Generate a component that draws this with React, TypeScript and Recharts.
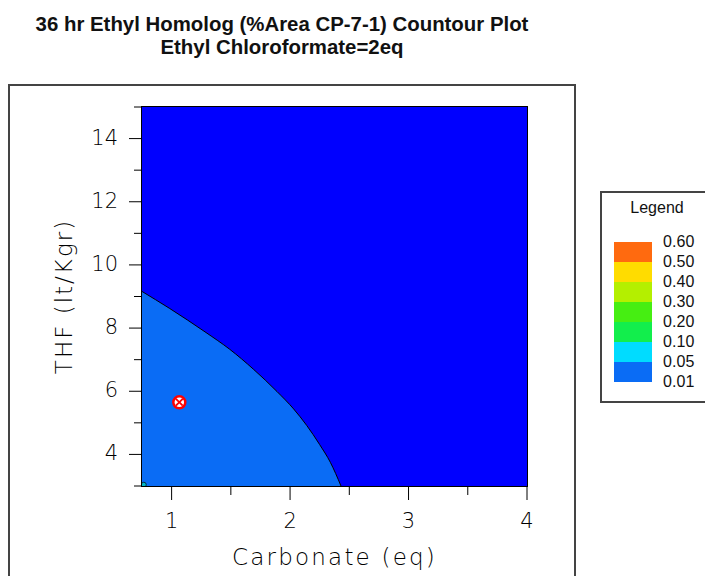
import React from "react";
import { ComposedChart, XAxis, YAxis, Area, Scatter, CartesianGrid } from "recharts";

// contour boundary between the 0.01-0.05 band and the < 0.01 band
const boundaryX = [0.75, 0.98, 1.29, 1.49, 1.69, 1.89, 2.03, 2.14, 2.25, 2.34, 2.43];
const boundaryY = [9.16, 8.63, 7.86, 7.33, 6.70, 5.99, 5.44, 4.92, 4.31, 3.75, 3.0];

// experiment point
const pointX = [1.065];
const pointY = [5.65];

// tiny 0.05 pocket in the corner
const pocketX = [0.765];
const pocketY = [3.04];

const xTicks = [1, 1.5, 2, 2.5, 3, 3.5, 4];
const xMajor = [1, 2, 3, 4];
const yTicks = [3, 4, 5, 6, 7, 8, 9, 10, 11, 12, 13, 14, 15];
const yMajor = [4, 6, 8, 10, 12, 14];

const legendLevels = ["0.60", "0.50", "0.40", "0.30", "0.20", "0.10", "0.05", "0.01"];
const legendColors = ["#ff6a0f", "#ffdc00", "#b4ef00", "#46ee12", "#12ee4c", "#00dcff", "#0a6cf5"];

const boundary = boundaryX.map((x, i) => ({ x, y: boundaryY[i] }));
const points = pointX.map((x, i) => ({ x, y: pointY[i] }));
const pocket = pocketX.map((x, i) => ({ x, y: pocketY[i] }));

const axisFont = "'DejaVu Sans', sans-serif";

const XTick = (props: any) => {
  const { x, y, payload } = props;
  const major = xMajor.includes(payload.value);
  return (
    <g>
      <line x1={x} x2={x} y1={y} y2={y + (major ? 14 : 9)} stroke="#000" strokeWidth={1} />
      {major && (
        <text x={x} y={y + 42} textAnchor="middle" fontFamily={axisFont} fontWeight={200} fontSize={21} fill="#000">
          {payload.value}
        </text>
      )}
    </g>
  );
};

const YTick = (props: any) => {
  const { x, y, payload } = props;
  const major = yMajor.includes(payload.value);
  return (
    <g>
      <line x1={x - (major ? 13 : 8)} x2={x} y1={y} y2={y} stroke="#000" strokeWidth={1} />
      {major && (
        <text x={x - 24} y={y + 6} textAnchor="end" fontFamily={axisFont} fontWeight={200} fontSize={21} fill="#000">
          {payload.value}
        </text>
      )}
    </g>
  );
};

const Marker = (props: any) => {
  const { cx, cy } = props;
  const d = 3.4;
  return (
    <g>
      <circle cx={cx} cy={cy} r={6} fill="#fff" stroke="#ff0000" strokeWidth={2.5} />
      <line x1={cx - d} y1={cy - d} x2={cx + d} y2={cy + d} stroke="#ff0000" strokeWidth={1.8} />
      <line x1={cx - d} y1={cy + d} x2={cx + d} y2={cy - d} stroke="#ff0000" strokeWidth={1.8} />
    </g>
  );
};

const Pocket = (props: any) => {
  const { cx, cy } = props;
  return <circle cx={cx} cy={cy} r={2.5} fill="#00b8c8" stroke="#003040" strokeWidth={1} />;
};

export default function App() {
  return (
    <div style={{ position: "absolute", left: 0, top: 0, width: 705, height: 576, background: "#fff", overflow: "hidden" }}>
      <div
        style={{
          position: "absolute",
          left: 0,
          top: 13,
          width: 564,
          textAlign: "center",
          fontFamily: "'Liberation Sans', Arial, sans-serif",
          fontWeight: "bold",
          fontSize: 20.4,
          lineHeight: "23px",
          color: "#111",
        }}
      >
        <div>36 hr Ethyl Homolog (%Area CP-7-1) Countour Plot</div>
        <div>Ethyl Chloroformate=2eq</div>
      </div>

      <div
        style={{
          position: "absolute",
          left: 8,
          top: 84,
          width: 568,
          height: 520,
          border: "2px solid #444",
          boxSizing: "border-box",
        }}
      />

      <div style={{ position: "absolute", left: 0, top: 0 }}>
        <ComposedChart width={705} height={576} data={boundary} margin={{ top: 107, right: 178, bottom: 0, left: 0 }}>
          <CartesianGrid horizontal={false} vertical={false} fill="#0000ff" fillOpacity={1} stroke="none" />
          <XAxis
            dataKey="x"
            type="number"
            domain={[0.75, 4]}
            ticks={xTicks}
            interval={0}
            allowDataOverflow
            height={90}
            tickSize={0}
            tickMargin={0}
            tickLine={false}
            axisLine={false}
            tick={<XTick />}
            label={({ viewBox }: any) => (
              <text
                x={viewBox.x + viewBox.width / 2}
                y={565}
                textAnchor="middle"
                fontFamily={axisFont}
                fontWeight={200}
                fontSize={23}
                letterSpacing={2.2}
                fill="#000"
              >
                Carbonate (eq)
              </text>
            )}
          />
          <YAxis
            dataKey="y"
            type="number"
            domain={[3, 15]}
            ticks={yTicks}
            interval={0}
            allowDataOverflow
            width={142}
            tickSize={0}
            tickMargin={0}
            tickLine={false}
            axisLine={false}
            tick={<YTick />}
            label={({ viewBox }: any) => (
              <text
                x={71.5}
                y={viewBox.y + viewBox.height / 2}
                transform={`rotate(-90 71.5 ${viewBox.y + viewBox.height / 2})`}
                textAnchor="middle"
                fontFamily={axisFont}
                fontWeight={200}
                fontSize={23}
                letterSpacing={2}
                fill="#000"
              >
                THF (lt/Kgr)
              </text>
            )}
          />
          <Area
            type="monotone"
            dataKey="y"
            baseValue="dataMin"
            fill="#0a6cf5"
            fillOpacity={1}
            stroke="#000"
            strokeWidth={1}
            isAnimationActive={false}
            dot={false}
            activeDot={false}
          />
          <Scatter data={pocket} dataKey="y" shape={<Pocket />} isAnimationActive={false} />
          <Scatter data={points} dataKey="y" shape={<Marker />} isAnimationActive={false} />
        </ComposedChart>
      </div>

      <div
        style={{
          position: "absolute",
          left: 141,
          top: 106,
          width: 387,
          height: 381,
          border: "1px solid #000",
          boxSizing: "border-box",
          pointerEvents: "none",
        }}
      />

      <div
        style={{
          position: "absolute",
          left: 600,
          top: 191,
          width: 130,
          height: 212,
          border: "2px solid #444",
          boxSizing: "border-box",
          background: "#fff",
          fontFamily: "'Liberation Sans', Arial, sans-serif",
          fontSize: 16,
          color: "#111",
        }}
      >
        <div style={{ position: "absolute", left: 20, top: 6, width: 70, textAlign: "center", lineHeight: "18px" }}>Legend</div>
        {legendColors.map((c, i) => (
          <div
            key={c}
            style={{ position: "absolute", left: 12, top: 49 + i * 20, width: 38, height: 20, background: c }}
          />
        ))}
        {legendLevels.map((lv, i) => (
          <div
            key={lv}
            style={{ position: "absolute", left: 61, top: 40 + i * 20, lineHeight: "18px", letterSpacing: 0.1 }}
          >
            {lv}
          </div>
        ))}
      </div>
    </div>
  );
}
